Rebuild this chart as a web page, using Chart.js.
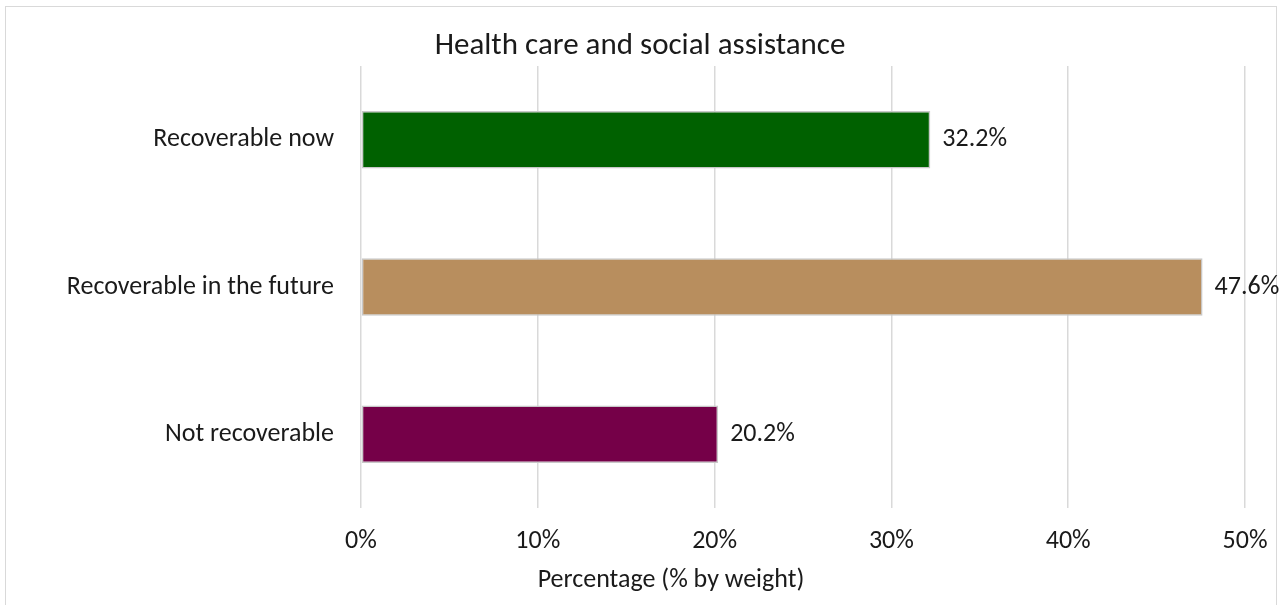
<!DOCTYPE html>
<html>
<head>
<meta charset="utf-8">
<script src="https://cdn.jsdelivr.net/npm/chart.js@4.4.1/dist/chart.umd.min.js"></script>
<style>
  html, body { margin: 0; padding: 0; background: #fff; overflow: hidden; }
  #frame {
    position: absolute; left: 5px; top: 6px; width: 1272px; height: 640px;
    border: 1.5px solid #d9d9d9; box-sizing: border-box;
  }
  #wrap { position: absolute; left: 0; top: 0; width: 1287px; height: 605px; }
</style>
</head>
<body>
<div id="frame"></div>
<div id="wrap"><canvas id="chart" width="1287" height="605"></canvas></div>
<script>
// chart data
const categories = ['Recoverable now', 'Recoverable in the future', 'Not recoverable'];
const shares = [32.2, 47.6, 20.2];
const barColors = ['#006100', '#b88e5e', '#750048'];
const tickValues = [0, 10, 20, 30, 40, 50];
const chartTitle = 'Health care and social assistance';
const axisTitle = 'Percentage (% by weight)';

const FONT = 'Carlito, Calibri, Lato, "Open Sans", sans-serif';
const TEXT = '#1a1a1a';
const SIZE = 26;

// value labels at the end of each bar
const valueLabels = {
  id: 'valueLabels',
  afterDatasetsDraw(chart) {
    const ctx = chart.ctx;
    const meta = chart.getDatasetMeta(0);
    ctx.save();
    ctx.font = SIZE + 'px ' + FONT;
    ctx.fillStyle = TEXT;
    ctx.textAlign = 'left';
    ctx.textBaseline = 'middle';
    meta.data.forEach((bar, i) => {
      ctx.fillText(shares[i].toFixed(1) + '%', bar.x + 12, bar.y);
    });
    ctx.restore();
  }
};

// chart title and x axis title, placed like the spreadsheet original
const titles = {
  id: 'titles',
  afterDraw(chart) {
    const ctx = chart.ctx;
    ctx.save();
    ctx.fillStyle = TEXT;
    ctx.textAlign = 'center';
    ctx.textBaseline = 'middle';
    ctx.font = '31px ' + FONT;
    ctx.fillText(chartTitle, 640, 46);
    ctx.font = SIZE + 'px ' + FONT;
    ctx.fillText(axisTitle, 671, 580);
    ctx.restore();
  }
};

new Chart(document.getElementById('chart'), {
  type: 'bar',
  data: {
    labels: categories,
    datasets: [{
      data: shares,
      backgroundColor: barColors,
      borderColor: '#c8c8c8',
      borderWidth: 1.5,
      borderSkipped: false,
      categoryPercentage: 1,
      barPercentage: 0.39
    }]
  },
  options: {
    indexAxis: 'y',
    responsive: false,
    animation: false,
    layout: { padding: { left: 0, right: 42, top: 66, bottom: 0 } },
    plugins: {
      legend: { display: false },
      title: { display: false },
      tooltip: { enabled: false }
    },
    scales: {
      x: {
        min: 0,
        max: 50,
        afterBuildTicks: s => { s.ticks = tickValues.map(v => ({ value: v })); },
        afterFit: s => { s.height = 97; },
        border: { display: false },
        grid: { color: '#d9d9d9', lineWidth: 1.5, drawTicks: false },
        ticks: {
          color: TEXT,
          padding: 18,
          maxRotation: 0,
          font: { family: FONT, size: SIZE },
          callback: v => v + '%'
        }
      },
      y: {
        afterFit: s => { s.width = 361; },
        border: { display: false },
        grid: { display: false },
        ticks: {
          color: TEXT,
          padding: 19,
          font: { family: FONT, size: SIZE }
        }
      }
    }
  },
  plugins: [valueLabels, titles]
});
</script>
</body>
</html>
